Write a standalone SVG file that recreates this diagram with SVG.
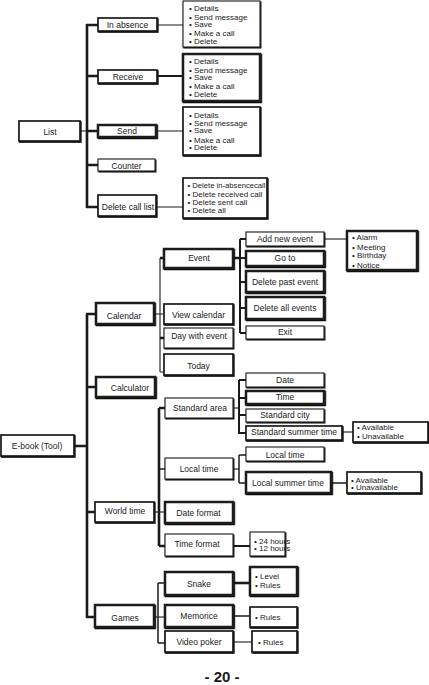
<svg xmlns="http://www.w3.org/2000/svg" width="429" height="685" viewBox="0 0 429 685">
<defs>
<filter id="sh" x="-10%" y="-10%" width="130%" height="140%">
<feDropShadow dx="0.8" dy="1" stdDeviation="0" flood-color="#111" flood-opacity="1"/>
</filter>
</defs>
<style>
rect{fill:#fff;stroke:#1a1a1a;filter:url(#sh)}
.t{stroke-width:1.1}
.m{stroke-width:1.7}
.h{stroke-width:2.5}
text{font-family:"Liberation Sans",Arial,sans-serif;fill:#1a1a1a}
.l{font-size:8.5px;text-anchor:middle}
.d{font-size:8px}
.pg{font-size:15px;font-weight:bold;text-anchor:middle}
#connectors path{fill:none;stroke:#1a1a1a}
.c1{stroke-width:1.1}
.c15{stroke-width:1.5}
.c2{stroke-width:2}
.c3{stroke-width:2.6}
</style>
<rect x="0" y="0" width="429" height="685" style="fill:#fff;stroke:none;filter:none"/>
<g id="connectors">
<path class="c3" d="M87,24V208M86,25H98M86,76H98M86,131H98M86,165H98M86,207H98"/>
<path class="c1" d="M80,131H87M157,25H183M156,131H183M156,207H183"/>
<path class="c2" d="M157,76H183"/>
<path class="c3" d="M87,314V618M86,314H96M86,387H96M86,512H95M86,617H95M74,446H87"/>
<path class="c1" d="M154,314H164M160,258V372M160,372H164"/>
<path class="c3" d="M160,258H164M160,338H164M233,258H240"/>
<path class="c2" d="M240,239V333M240,239H246M240,258H246M240,282H246M240,308H246M240,333H246"/>
<path class="c1" d="M324,239H347"/>
<path class="c1" d="M154,512H165"/>
<path class="c3" d="M159,408V546M159,408H165M159,546H165"/>
<path class="c15" d="M159,469H165"/>
<path class="c1" d="M233,408H239"/>
<path class="c2" d="M239,380V434M239,380H246M239,398H246M239,415H246M239,433H246"/>
<path class="c1" d="M342,432H353"/>
<path class="c1" d="M233,469H239"/>
<path class="c15" d="M239,455V483M239,455H246M239,483H246M331,483H347"/>
<path class="c2" d="M233,546H250"/>
<path class="c1" d="M154,617H165"/>
<path class="c15" d="M158,583V643M158,583H165M158,643H165M233,616H250"/>
<path class="c3" d="M233,583H250"/>
<path class="c1" d="M233,642H252"/>
</g>
<g id="list"><rect class="m" x="19" y="121" width="61" height="20"/><text class="l" x="50" y="135">List</text></g>
<g id="in-absence"><rect class="m" x="98" y="18" width="59" height="13"/><text class="l" x="127.5" y="28">In absence</text></g>
<g id="receive"><rect class="m" x="98" y="70" width="59" height="13"/><text class="l" x="128" y="80">Receive</text></g>
<g id="send"><rect class="h" x="98" y="125" width="58" height="12"/><text class="l" x="127" y="134">Send</text></g>
<g id="counter"><rect class="t" x="98" y="159" width="57" height="12"/><text class="l" x="126.5" y="169">Counter</text></g>
<g id="delete-call-list"><rect class="m" x="98" y="195" width="58" height="21"/><text class="l" x="128" y="210">Delete call list</text></g>
<g id="details-in-absence"><rect class="t" x="183" y="1" width="77" height="46"/>
<text class="d" x="189" y="11">• Details</text><text class="d" x="189" y="20">• Send message</text><text class="d" x="189" y="27">• Save</text><text class="d" x="189" y="36">• Make a call</text><text class="d" x="189" y="44">• Delete</text></g>
<g id="details-receive"><rect class="h" x="183" y="54" width="77" height="47"/>
<text class="d" x="189" y="64">• Details</text><text class="d" x="189" y="73">• Send message</text><text class="d" x="189" y="80">• Save</text><text class="d" x="189" y="89">• Make a call</text><text class="d" x="189" y="97">• Delete</text></g>
<g id="details-send"><rect class="m" x="183" y="107" width="77" height="48"/>
<text class="d" x="189" y="118">• Details</text><text class="d" x="189" y="126">• Send message</text><text class="d" x="189" y="133">• Save</text><text class="d" x="189" y="143">• Make a call</text><text class="d" x="189" y="150">• Delete</text></g>
<g id="details-delete"><rect class="m" x="183" y="178" width="84" height="40"/>
<text class="d" x="187.5" y="188" textLength="78" lengthAdjust="spacingAndGlyphs">• Delete in-absencecall</text><text class="d" x="187.5" y="197">• Delete received call</text><text class="d" x="187.5" y="205">• Delete sent call</text><text class="d" x="187.5" y="213">• Delete all</text></g>

<g id="ebook"><rect class="m" x="1" y="435" width="73" height="21"/><text class="l" x="37" y="449">E-book (Tool)</text></g>
<g id="calendar"><rect class="h" x="96" y="303" width="58" height="21"/><text class="l" x="124" y="319">Calendar</text></g>
<g id="calculator"><rect class="h" x="96" y="377" width="59" height="20"/><text class="l" x="130" y="391">Calculator</text></g>
<g id="world-time"><rect class="m" x="95" y="502" width="59" height="20"/><text class="l" x="125" y="514">World time</text></g>
<g id="games"><rect class="h" x="95" y="605" width="59" height="22"/><text class="l" x="125" y="621">Games</text></g>
<g id="event"><rect class="h" x="164" y="249" width="69" height="19"/><text class="l" x="199" y="261">Event</text></g>
<g id="view-calendar"><rect class="m" x="164" y="304" width="69" height="20"/><text class="l" x="198.5" y="318">View calendar</text></g>
<g id="day-with-event"><rect class="t" x="164" y="328" width="69" height="20"/><text class="l" x="199" y="339">Day with event</text></g>
<g id="today"><rect class="m" x="164" y="354" width="69" height="21"/><text class="l" x="198.5" y="369">Today</text></g>
<g id="add-new-event"><rect class="t" x="246" y="232" width="78" height="14"/><text class="l" x="285" y="242">Add new event</text></g>
<g id="go-to"><rect class="h" x="246" y="251" width="78" height="15"/><text class="l" x="285" y="261">Go to</text></g>
<g id="delete-past-event"><rect class="h" x="246" y="271" width="78" height="21"/><text class="l" x="285" y="285">Delete past event</text></g>
<g id="delete-all-events"><rect class="h" x="246" y="297" width="78" height="22"/><text class="l" x="285" y="311">Delete all events</text></g>
<g id="exit"><rect class="t" x="246" y="326" width="78" height="13"/><text class="l" x="285" y="335">Exit</text></g>
<g id="event-types"><rect class="h" x="347" y="231" width="70" height="39"/>
<text class="d" x="352" y="240">• Alarm</text><text class="d" x="352" y="250">• Meeting</text><text class="d" x="352" y="258">• Birthday</text><text class="d" x="352" y="268">• Notice</text></g>
<g id="standard-area"><rect class="t" x="165" y="398" width="68" height="20"/><text class="l" x="200" y="411">Standard area</text></g>
<g id="local-time"><rect class="t" x="165" y="458" width="68" height="21"/><text class="l" x="199" y="472">Local time</text></g>
<g id="date-format"><rect class="h" x="165" y="502" width="68" height="21"/><text class="l" x="198.5" y="516">Date format</text></g>
<g id="time-format"><rect class="t" x="165" y="534" width="68" height="22"/><text class="l" x="197" y="547">Time format</text></g>
<g id="date"><rect class="t" x="246" y="373" width="78" height="14"/><text class="l" x="285" y="383">Date</text></g>
<g id="time"><rect class="h" x="246" y="391" width="78" height="13"/><text class="l" x="285" y="400">Time</text></g>
<g id="standard-city"><rect class="t" x="246" y="409" width="78" height="13"/><text class="l" x="285" y="418">Standard city</text></g>
<g id="standard-summer-time"><rect class="m" x="246" y="426" width="96" height="14"/><text class="l" x="294" y="435">Standard summer time</text></g>
<g id="availability-1"><rect class="m" x="353" y="422" width="75" height="20"/>
<text class="d" x="357" y="430">• Available</text><text class="d" x="357" y="439">• Unavailable</text></g>
<g id="local-time-2"><rect class="t" x="246" y="447" width="78" height="14"/><text class="l" x="285" y="458">Local time</text></g>
<g id="local-summer-time"><rect class="h" x="246" y="472" width="85" height="21"/><text class="l" x="288" y="486">Local summer time</text></g>
<g id="availability-2"><rect class="m" x="347" y="472" width="74" height="21"/>
<text class="d" x="351" y="483">• Available</text><text class="d" x="351" y="490">• Unavailable</text></g>
<g id="hours"><rect class="t" x="250" y="532" width="35" height="24"/>
<text class="d" x="254" y="544">• 24 hours</text><text class="d" x="254" y="551">• 12 hours</text></g>
<g id="snake"><rect class="h" x="165" y="572" width="68" height="23"/><text class="l" x="199" y="587">Snake</text></g>
<g id="memorice"><rect class="h" x="165" y="605" width="68" height="22"/><text class="l" x="199" y="619">Memorice</text></g>
<g id="video-poker"><rect class="m" x="165" y="631" width="68" height="21"/><text class="l" x="199" y="645">Video poker</text></g>
<g id="snake-opts"><rect class="h" x="250" y="567" width="47" height="28"/>
<text class="d" x="255" y="579">• Level</text><text class="d" x="255" y="588">• Rules</text></g>
<g id="memorice-opts"><rect class="m" x="250" y="607" width="47" height="20"/><text class="d" x="255" y="620">• Rules</text></g>
<g id="video-poker-opts"><rect class="m" x="252" y="631" width="45" height="21"/><text class="d" x="258" y="645">• Rules</text></g>
<text class="pg" x="222" y="682">- 20 -</text>
</svg>
